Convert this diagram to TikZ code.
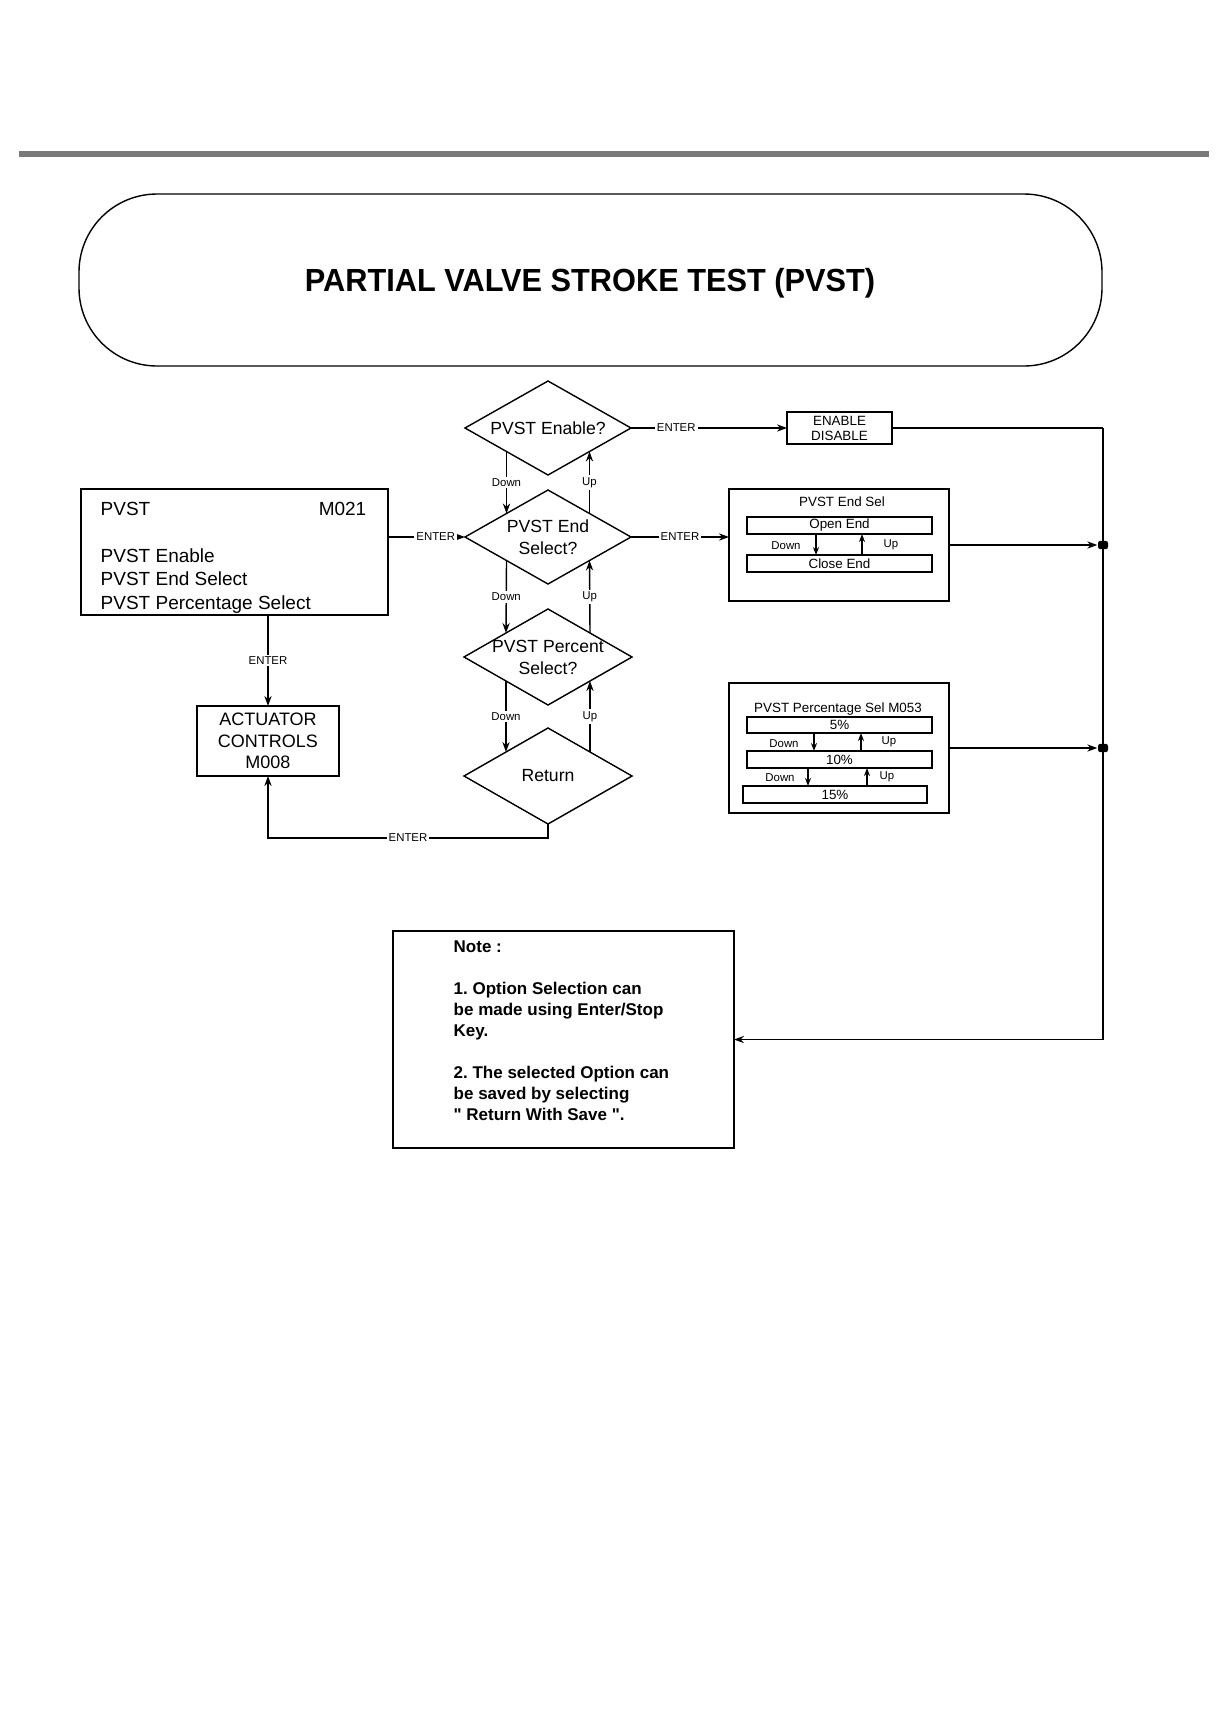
\documentclass[tikz,border=0pt]{standalone}
\usepackage{fontspec}
\setmainfont{Liberation Sans}[Ligatures=TeXOff]
\usepackage{graphicx}
\usetikzlibrary{shapes.geometric,arrows.meta,calc}
\frenchspacing
\begin{document}
\begin{tikzpicture}[x=0.5pt,y=-0.5pt, line width=0.7pt,
 arr/.style={-{Stealth[length=5pt,width=3.6pt]}},
 sarr/.style={-{Stealth[length=4pt,width=3pt]}},
 dia/.style={draw,diamond,inner sep=0pt,outer sep=0pt,minimum width=83pt,minimum height=47pt},
 dtext/.style={font=\fontsize{8.8}{11}\selectfont,align=center},
 lbl/.style={font=\fontsize{5.7}{6.5}\selectfont,fill=white,inner sep=1pt},
 nlbl/.style={font=\fontsize{5.7}{6.5}\selectfont,inner sep=0pt},
 box/.style={draw,inner sep=0pt,outer sep=0pt},
 mtext/.style={font=\fontsize{9.5}{12}\selectfont,inner sep=0pt},
 stext/.style={font=\fontsize{6.7}{7.5}\selectfont,inner sep=0pt},
 dot/.style={fill,rounded corners=1.2pt,minimum width=5pt,minimum height=4.2pt,inner sep=0pt},
]
\useasboundingbox (0,0) rectangle (1227,1720);
% top bar
\fill[black!52] (19,151) rectangle (1209,157);
% title
\node[draw,rounded corners=39pt,minimum width=511.5pt,minimum height=86pt,inner sep=0pt] (title) at (590.5,280) {};
\node[font=\bfseries\fontsize{16}{19}\selectfont,inner sep=0pt] (ttext) at (590,283) {\scalebox{0.96}[1]{PARTIAL VALVE STROKE TEST (PVST)}};
% diamonds
\node[dia,label={[dtext]center:PVST Enable?}] (d1) at (548,428) {};
\node[dia,label={[dtext]center:PVST End\\Select?}] (d2) at (548,537) {};
\node[dia,minimum width=84pt,minimum height=48pt,label={[dtext]center:PVST Percent\\Select?}] (d3) at (548,657) {};
\node[dia,minimum width=84pt,minimum height=48pt,label={[dtext]center:Return}] (d4) at (548,776) {};
\draw[arr] (d1.south west) -- node[lbl]{Down} (d2.north west);
\draw[arr] (d2.north east) -- node[lbl]{Up} (d1.south east);
\draw[arr] (d2.south west) -- node[lbl]{Down} (d3.north west);
\draw[arr] (d3.north east) -- node[lbl]{Up} (d2.south east);
\draw[arr] (d3.south west) -- node[lbl]{Down} (d4.north west);
\draw[arr] (d4.north east) -- node[lbl]{Up} (d3.south east);
% menu box
\node[box,minimum width=153.5pt,minimum height=63pt,anchor=north west] (menu) at (81,489) {};
\node[mtext,anchor=base west] (mt1) at (100,515) {PVST};
\node[mtext,anchor=base east] (mt2) at (367,515) {M021};
\node[mtext,anchor=base west] (mt3) at (100,562) {PVST Enable};
\node[mtext,anchor=base west] (mt4) at (100,585) {PVST End Select};
\node[mtext,anchor=base west] (mt5) at (100,609) {PVST Percentage Select};
% actuator
\node[box,minimum width=71pt,minimum height=35pt,align=center,font=\fontsize{9}{10.7}\selectfont] (act) at (268,741) {ACTUATOR\\CONTROLS\\M008};
\draw[arr] (menu.south -| act.north) -- node[lbl]{ENTER} (act.north);
\draw[arr] (menu.east |- d2.west) -- node[lbl,pos=0.62]{ENTER} (d2.west);
\draw[arr] (d4.south) -- ++(0,14) -| node[lbl,pos=0.25]{ENTER} (act.south);
% enable box
\node[box,minimum width=52.5pt,minimum height=16pt,align=center,font=\fontsize{6.7}{7.5}\selectfont] (en) at (839.5,428) {ENABLE\\DISABLE};
\draw[arr] (d1.east) -- node[lbl,pos=0.29]{ENTER} (en.west);
% end sel box
\node[box,minimum width=110pt,minimum height=56pt] (es) at (839,545) {};
\node[stext] (est) at (842,502) {PVST End Sel};
\node[box,stext,minimum width=92.5pt,minimum height=8.5pt] (oe) at (839.5,525.5) {Open End};
\node[box,stext,minimum width=92.5pt,minimum height=8.5pt] (ce) at (839.5,563.5) {Close End};
\draw[sarr] ([xshift=-11.75pt]oe.south) -- ([xshift=-11.75pt]ce.north);
\draw[sarr] ([xshift=11.25pt]ce.north) -- ([xshift=11.25pt]oe.south);
\node[nlbl] (esd) at (786,546) {Down};
\node[nlbl] (esu) at (891,545) {Up};
\draw[arr] (d2.east) -- node[lbl]{ENTER} (d2.east -| es.west);
% percentage box
\node[box,minimum width=110pt,minimum height=65pt] (ps) at (839,748) {};
\node[stext] (pst) at (838,709) {PVST Percentage Sel M053};
\node[box,stext,minimum width=92.5pt,minimum height=8pt] (p5) at (839.5,725) {5\%};
\node[box,stext,minimum width=92.5pt,minimum height=8.5pt] (p10) at (839.5,759.5) {10\%};
\node[box,stext,minimum width=92pt,minimum height=8.5pt] (p15) at (835,794.5) {15\%};
\draw[sarr] ([xshift=-12.75pt]p5.south) -- ([xshift=-12.75pt]p10.north);
\draw[sarr] ([xshift=10.75pt]p10.north) -- ([xshift=10.75pt]p5.south);
\draw[sarr] ([xshift=-15.75pt]p10.south) -- ([xshift=-13.5pt]p15.north);
\draw[sarr] ([xshift=16pt]p15.north) -- ([xshift=13.75pt]p10.south);
\node[nlbl] (psd1) at (784,744) {Down};
\node[nlbl] (psu1) at (889,742) {Up};
\node[nlbl] (psd2) at (780,778) {Down};
\node[nlbl] (psu2) at (887,777) {Up};
% note box
\node[box,minimum width=170.5pt,minimum height=108.5pt] (note) at (563.5,1039.5) {};
\node[font=\bfseries\fontsize{8.5}{10.5}\selectfont,align=left,anchor=north west,inner sep=0pt] (nt) at (453,940) {Note :\\[10.5pt]1. Option Selection can\\be made using Enter/Stop\\Key.\\[10.5pt]2. The selected Option can\\be saved by selecting\\" Return With Save ".};
% right collector line
\coordinate (jt) at (1103,428);
\node[dot] (j1) at (1103,545) {};
\node[dot] (j2) at (1103,748) {};
\draw (en.east) -- (jt);
\draw[arr] (jt) -- (jt |- note.east) -- (note.east);
\draw[arr] (es.east) -- (j1.west);
\draw[arr] (ps.east) -- (j2.west);
\end{tikzpicture}
\end{document}
